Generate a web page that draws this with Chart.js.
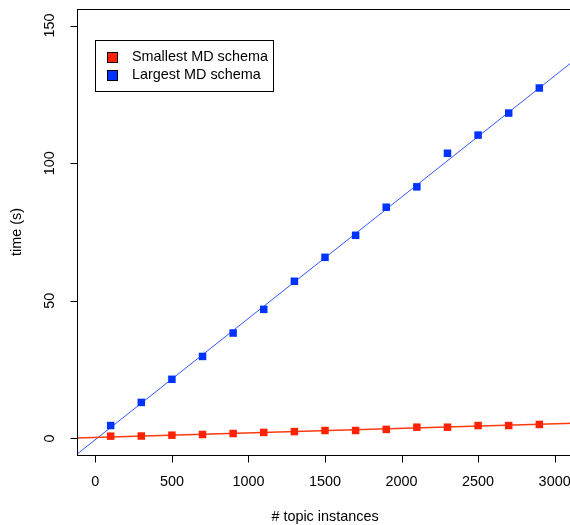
<!DOCTYPE html>
<html>
<head>
<meta charset="utf-8">
<script src="https://cdn.jsdelivr.net/npm/chart.js@4.4.1/dist/chart.umd.min.js"></script>
<style>
  html, body { margin: 0; padding: 0; background: #fff; overflow: hidden; }
  #wrap { width: 580px; height: 525px; }
</style>
</head>
<body>
<div id="wrap"><canvas id="chart" width="580" height="525"></canvas></div>
<script>
// data
var instances = [100, 300, 500, 700, 900, 1100, 1300, 1500, 1700, 1900, 2100, 2300, 2500, 2700, 2900];
var smallestTimes = [0.85, 0.9, 1.2, 1.45, 1.8, 2.2, 2.5, 2.9, 2.9, 3.3, 4.1, 4.1, 4.7, 4.7, 5.1];
var largestTimes = [4.7, 13.1, 21.5, 29.8, 38.3, 46.9, 57.1, 65.8, 73.8, 84.0, 91.4, 103.6, 110.2, 118.2, 127.3];

// fitted lines (abline), ends at the plot edges
var fitX = [-120, 3120];
var smallestFit = [0.22, 5.49];
var largestFit = [-5.7, 137.0];

var xTicks = [0, 500, 1000, 1500, 2000, 2500, 3000];
var yTicks = [0, 50, 100, 150];

var RED = '#ff2200';
var BLUE = '#0033ff';
var FONT = '"Liberation Sans", Arial, Helvetica, sans-serif';

function pts(xs, ys) {
    return xs.map(function (x, i) { return { x: x, y: ys[i] }; });
}

// R style box, axes, labels and legend
var rPlot = {
    id: 'rPlot',
    afterDraw: function (chart) {
        var ctx = chart.ctx;
        var a = chart.chartArea;
        var xs = chart.scales.x, ys = chart.scales.y;
        ctx.save();
        ctx.strokeStyle = '#000';
        ctx.lineWidth = 1;
        ctx.strokeRect(Math.round(a.left) + 0.5, Math.round(a.top) + 0.5,
            Math.round(a.right - a.left), Math.round(a.bottom - a.top));

        ctx.fillStyle = '#000';
        ctx.font = '14.4px ' + FONT;
        ctx.textAlign = 'center';
        ctx.textBaseline = 'middle';

        var b = Math.round(a.bottom) + 0.5;
        ctx.beginPath();
        xTicks.forEach(function (v) {
            var px = Math.round(xs.getPixelForValue(v)) + 0.5;
            ctx.moveTo(px, b);
            ctx.lineTo(px, b + 7);
        });
        ctx.stroke();
        xTicks.forEach(function (v) {
            ctx.fillText(String(v), xs.getPixelForValue(v), 482);
        });

        var l = Math.round(a.left) + 0.5;
        ctx.beginPath();
        yTicks.forEach(function (v) {
            var py = Math.round(ys.getPixelForValue(v)) + 0.5;
            ctx.moveTo(l, py);
            ctx.lineTo(l - 7, py);
        });
        ctx.stroke();
        yTicks.forEach(function (v) {
            ctx.save();
            ctx.translate(50, ys.getPixelForValue(v));
            ctx.rotate(-Math.PI / 2);
            ctx.fillText(String(v), 0, 0);
            ctx.restore();
        });

        ctx.fillText('# topic instances', (a.left + a.right) / 2, 517);
        ctx.save();
        ctx.translate(17, (a.top + a.bottom) / 2);
        ctx.rotate(-Math.PI / 2);
        ctx.fillText('time (s)', 0, 0);
        ctx.restore();

        // legend
        ctx.fillStyle = '#fff';
        ctx.fillRect(95, 40, 178, 51);
        ctx.strokeRect(95.5, 40.5, 178, 51);
        var entries = [chart.data.datasets[0], chart.data.datasets[1]];
        entries.forEach(function (ds, i) {
            var cy = 57 + i * 18;
            ctx.fillStyle = ds.backgroundColor;
            ctx.fillRect(107, cy - 5, 10, 10);
            ctx.strokeRect(107.5, cy - 4.5, 10, 10);
            ctx.fillStyle = '#000';
            ctx.textAlign = 'left';
            ctx.fillText(ds.label, 132, cy);
        });
        ctx.restore();
    }
};

new Chart(document.getElementById('chart'), {
    type: 'scatter',
    data: {
        datasets: [
            {
                label: 'Smallest MD schema',
                data: pts(instances, smallestTimes),
                backgroundColor: RED,
                borderWidth: 0,
                pointStyle: 'rect',
                pointRadius: 5.3,
                order: 1
            },
            {
                label: 'Largest MD schema',
                data: pts(instances, largestTimes),
                backgroundColor: BLUE,
                borderWidth: 0,
                pointStyle: 'rect',
                pointRadius: 5.3,
                order: 1
            },
            {
                label: 'fit small',
                data: pts(fitX, smallestFit),
                showLine: true,
                borderColor: '#ff3a10',
                borderWidth: 1.5,
                pointRadius: 0,
                order: 2
            },
            {
                label: 'fit large',
                data: pts(fitX, largestFit),
                showLine: true,
                borderColor: '#3355ff',
                borderWidth: 1,
                pointRadius: 0,
                order: 2
            }
        ]
    },
    options: {
        responsive: false,
        animation: false,
        events: [],
        layout: { padding: { left: 77, right: 7, top: 9, bottom: 70 } },
        scales: {
            x: { type: 'linear', min: -120, max: 3120, display: false },
            y: { type: 'linear', min: -6, max: 156, display: false }
        },
        plugins: {
            legend: { display: false },
            tooltip: { enabled: false }
        }
    },
    plugins: [rPlot]
});
</script>
</body>
</html>
